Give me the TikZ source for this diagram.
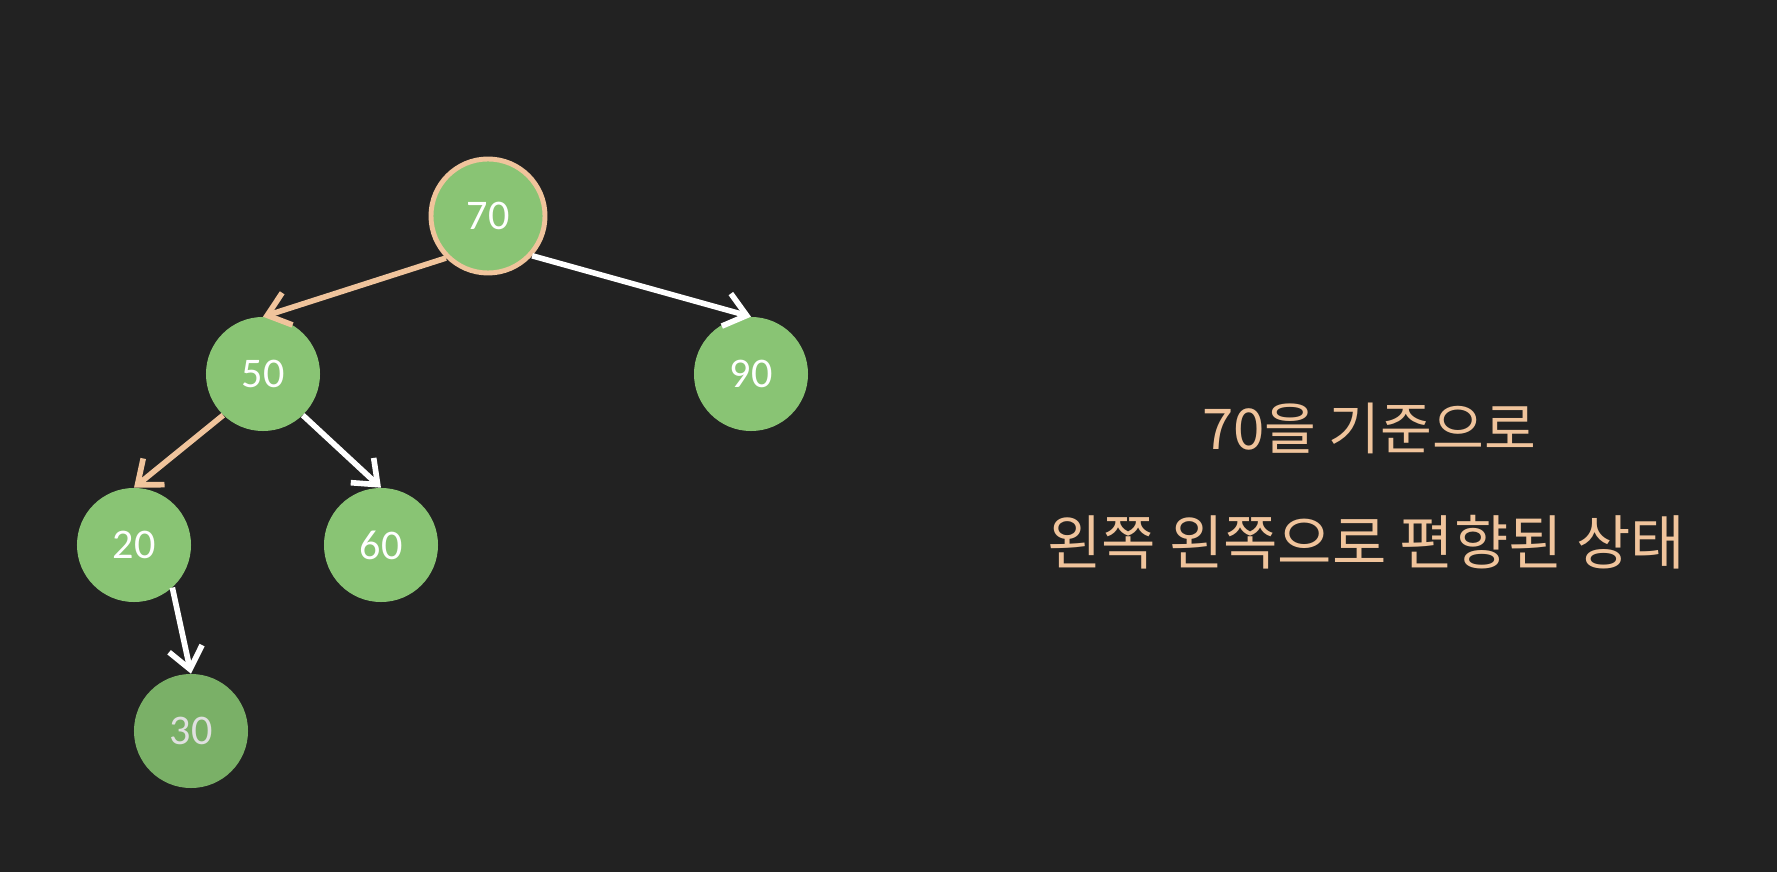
\documentclass[tikz,border=0pt]{standalone}
\usepackage{fontspec}
\setmainfont{Carlito}
\newfontfamily\kofont{Noto Sans CJK KR}
\usepackage{tikz}
\usetikzlibrary{arrows.meta}
\definecolor{board}{HTML}{222222}
\definecolor{leafgreen}{HTML}{89C474}
\definecolor{deepgreen}{HTML}{7AB067}
\definecolor{peach}{HTML}{F0C49C}

\begin{document}
\begin{tikzpicture}[x=0.025cm,y=-0.025cm,
  bst/.style={circle,fill=leafgreen,minimum size=2.85cm,inner sep=0pt,text=white,font=\fontsize{30}{30}\selectfont},
  link/.style={line width=4pt,white,-{Straight Barb[length=15pt,width=24pt,line width=4pt]}},
  hot/.style={link,peach},
  caption/.style={text=peach,font=\kofont\fontsize{40}{40}\selectfont}]
\fill[board] (0,0) rectangle (1777,872);
\node[bst,draw=peach,line width=3.5pt] (n70) at (488,216) {70};
\node[bst] (n50) at (263,374) {50};
\node[bst] (n90) at (751,374) {90};
\node[bst] (n20) at (134,545) {20};
\node[bst] (n60) at (381,545) {60};
\node[bst,fill=deepgreen,text=black!12] (n30) at (191,731) {30};
\draw[hot] (n70.-135) -- (n50.north);
\draw[link] (n70.-42) -- (n90.north);
\draw[hot] (n50.-134) -- (n20.north);
\draw[link] (n50.-46) -- (n60.north);
\draw[link] (n20.-48) -- (n30.north);
\node[caption] (line1) at (1369,428) {70을 기준으로};
\node[caption,font=\kofont\fontsize{42}{42}\selectfont] (line2) at (1366,542) {왼쪽 왼쪽으로 편향된 상태};
\end{tikzpicture}
\end{document}
